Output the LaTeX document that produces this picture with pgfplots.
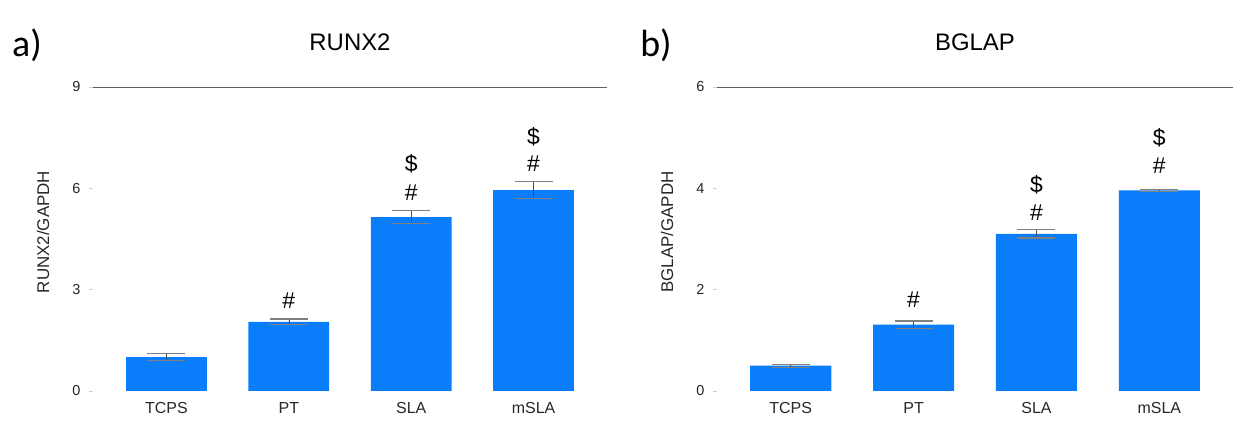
\documentclass[border=0pt]{standalone}
\usepackage{fontspec}
\setmainfont{Liberation Sans}
\newfontfamily\calfont{Carlito}
\usepackage{pgfplots}
\pgfplotsset{compat=1.18}
\definecolor{barblue}{RGB}{10,125,250}
\definecolor{topline}{RGB}{95,95,95}
\definecolor{baseline}{RGB}{205,205,205}

\pgfplotstableread{
x y e
0 1.00 0.10
1 2.05 0.08
2 5.15 0.20
3 5.95 0.25
}\runx
\pgfplotstableread{
x y e
0 0.50 0.03
1 1.31 0.07
2 3.10 0.08
3 3.96 0.02
}\bglap

\pgfplotsset{panel/.style={
  scale only axis, width=514bp, height=304bp, anchor=south west,
  xmin=-0.6, xmax=3.6, ymin=0,
  ybar, bar width=0.66,
  axis line style={draw=none},
  xtick={0,1,2,3}, xticklabels={TCPS,PT,SLA,mSLA},
  xtick style={draw=none},
  ytick pos=left,
  ytick style={draw=baseline, line width=0.6pt},
  tick align=outside, major tick length=4bp,
  /pgf/number format/assume math mode=true,
  ticklabel style={font=\fontsize{14.5}{16}\selectfont, text=black!85},
  xticklabel style={yshift=-4bp, font=\fontsize{16}{18}\selectfont},
  yticklabel style={xshift=-5bp},
  ylabel style={at={(axis description cs:-0.097,0.523)}, anchor=center, font=\fontsize{17}{19}\selectfont, text=black!85},
  title style={at={(axis description cs:0.5,1.128)}, anchor=center, font=\fontsize{24}{28}\selectfont},
}}
\tikzset{ann/.style={font=\fontsize{23}{25}\selectfont}}

\begin{document}
\begin{tikzpicture}
\useasboundingbox (0,0) rectangle (1241bp,421bp);
\begin{axis}[panel, at={(93bp,30bp)}, ymax=9, ytick={0,3,6,9}, ylabel={RUNX2/GAPDH}, title={RUNX2}]
\addplot[fill=barblue, draw=none,
  error bars/.cd, y dir=both, y explicit,
  error bar style={black!70, line width=0.6pt},
  error mark options={rotate=90, gray, mark size=19bp, line width=1.2pt}]
  table[x=x, y=y, y error=e] {\runx};
\draw[baseline, line width=0.8pt] (rel axis cs:0,0) -- (rel axis cs:1,0);
\draw[topline, line width=0.8pt] (rel axis cs:0,1) -- (rel axis cs:1,1);
\node[ann] at (axis cs:1,2.66) {\#};
\node[ann] at (axis cs:2,5.86) {\#};
\node[ann] at (axis cs:2,6.72) {\$};
\node[ann] at (axis cs:3,6.72) {\#};
\node[ann] at (axis cs:3,7.54) {\$};
\end{axis}
\begin{axis}[panel, at={(717bp,30bp)}, width=516bp, ymax=6, ytick={0,2,4,6}, ylabel={BGLAP/GAPDH}, title={BGLAP}]
\addplot[fill=barblue, draw=none,
  error bars/.cd, y dir=both, y explicit,
  error bar style={black!70, line width=0.6pt},
  error mark options={rotate=90, gray, mark size=19bp, line width=1.2pt}]
  table[x=x, y=y, y error=e] {\bglap};
\draw[baseline, line width=0.8pt] (rel axis cs:0,0) -- (rel axis cs:1,0);
\draw[topline, line width=0.8pt] (rel axis cs:0,1) -- (rel axis cs:1,1);
\node[ann] at (axis cs:1,1.80) {\#};
\node[ann] at (axis cs:2,3.51) {\#};
\node[ann] at (axis cs:2,4.06) {\$};
\node[ann] at (axis cs:3,4.44) {\#};
\node[ann] at (axis cs:3,5.00) {\$};
\end{axis}
\node[font=\calfont\fontsize{38}{42}\selectfont] at (27bp,376bp) {a)};
\node[font=\calfont\fontsize{38}{42}\selectfont] at (656bp,376bp) {b)};
\end{tikzpicture}
\end{document}
